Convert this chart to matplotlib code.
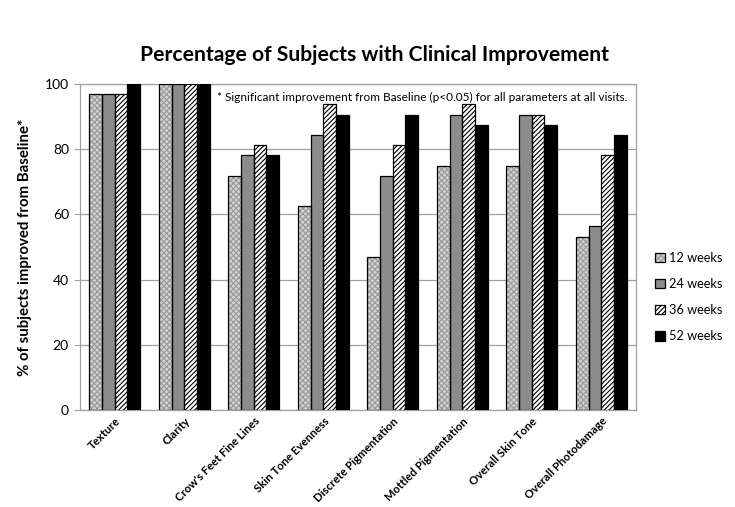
import matplotlib
matplotlib.use("Agg")
import matplotlib.pyplot as plt
import numpy as np
from matplotlib.patches import Patch
from matplotlib.legend_handler import HandlerTuple

categories = ["Texture", "Clarity", "Crow's Feet Fine Lines", "Skin Tone Evenness",
              "Discrete Pigmentation", "Mottled Pigmentation", "Overall Skin Tone",
              "Overall Photodamage"]
series_names = ["12 weeks", "24 weeks", "36 weeks", "52 weeks"]
w12 = [96.9, 100, 71.9, 62.5, 46.9, 75.0, 75.0, 53.1]
w24 = [96.9, 100, 78.1, 84.4, 71.9, 90.6, 90.6, 56.3]
w36 = [96.9, 100, 81.3, 93.8, 81.3, 93.8, 90.6, 78.1]
w52 = [100, 100, 78.1, 90.6, 90.6, 87.5, 87.5, 84.4]
yticks = [0, 20, 40, 60, 80, 100]

plt.rcParams['font.family'] = ['Lato', 'DejaVu Sans']
plt.rcParams['hatch.linewidth'] = 0.8

fig = plt.figure(figsize=(7.35, 5.07), dpi=100)
ax = fig.add_axes([80/735, 97/507, 556/735, 326/507])

styles = [
    dict(face='#d0d0d0', hatch='xxxxxx', hcol='#9a9a9a'),
    dict(face='#8c8c8c', hatch=None, hcol='#8c8c8c'),
    dict(face='white', hatch='///////', hcol='black'),
    dict(face='black', hatch=None, hcol='black'),
]
data = [w12, w24, w36, w52]
x = np.arange(len(categories))
bw = 0.183
handles = []
for i, (vals, st) in enumerate(zip(data, styles)):
    pos = x + (i - 1.5) * bw
    ax.bar(pos, vals, bw, color=st['face'], hatch=st['hatch'], edgecolor=st['hcol'],
           linewidth=0, zorder=3)
    ax.bar(pos, vals, bw, fill=False, edgecolor='black', linewidth=0.9, zorder=4)
    h1 = Patch(facecolor=st['face'], hatch=st['hatch'], edgecolor=st['hcol'], linewidth=0)
    h2 = Patch(fill=False, edgecolor='black', linewidth=0.9)
    handles.append((h1, h2))

ax.set_xlim(-0.5, len(categories) - 0.5)
ax.set_ylim(0, 100)
ax.set_yticks(yticks)
ax.yaxis.grid(True, color='#a0a0a0', linewidth=0.9, zorder=0)
ax.set_axisbelow(True)
for s in ax.spines.values():
    s.set_color('#a0a0a0')
    s.set_linewidth(0.9)
ax.tick_params(axis='y', length=4, color='#a0a0a0', labelsize=10, pad=4)
ax.tick_params(axis='x', length=0, pad=4)
ax.set_xticks(x)
ax.set_xticklabels(categories, rotation=45, ha='right', rotation_mode='anchor',
                   fontsize=8.2, fontweight='bold')

ax.set_ylabel("% of subjects improved from Baseline*", fontsize=10.8, fontweight='bold',
              labelpad=9)
fig.text(375/735, 1 - 55/507, "Percentage of Subjects with Clinical Improvement",
         ha='center', va='center', fontsize=15.2, fontweight='bold')
ax.text(0.985, 0.975, "* Significant improvement from Baseline (p<0.05) for all parameters at all visits.",
        transform=ax.transAxes, ha='right', va='top', fontsize=8.5, zorder=5)

fig.legend(handles, series_names, handler_map={tuple: HandlerTuple(ndivide=1)},
           loc='center left', bbox_to_anchor=(655/735, 1 - 297/507), frameon=False,
           fontsize=9.2, handlelength=0.8, handleheight=0.8, handletextpad=0.3,
           labelspacing=1.1, borderpad=0, borderaxespad=0)

fig.savefig("out.png", dpi=100)
